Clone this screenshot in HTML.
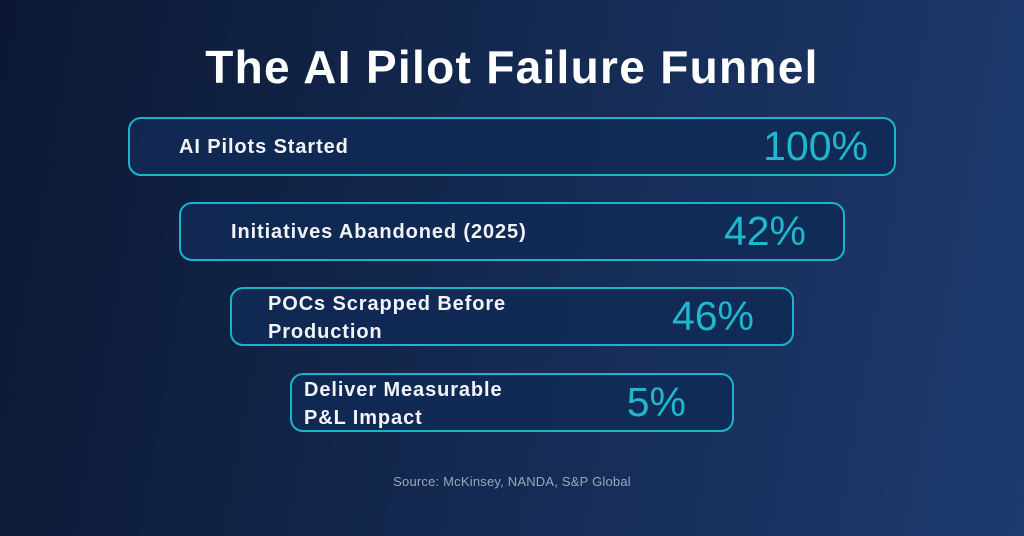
<!DOCTYPE html>
<html><head><meta charset="utf-8"><style>
html,body{margin:0;padding:0}
body{width:1024px;height:536px;overflow:hidden;position:relative;font-family:"Liberation Sans",sans-serif;
background:linear-gradient(100deg,#0c1832 0%,#142a52 50%,#1e3a6e 100%);}
.t{position:absolute;top:40px;left:0;width:1024px;text-align:center;color:#fff;font-weight:bold;font-size:46px;letter-spacing:1.3px}
.b{position:absolute;height:55px;border:2px solid #1ab4cc;border-radius:13px;background:rgba(16,42,86,0.85);box-sizing:content-box}
.l{position:absolute;color:#f2f4f8;font-size:20px;font-weight:bold;line-height:28px;letter-spacing:0.9px;white-space:nowrap}
.p{position:absolute;color:#1fb8cf;font-size:41px;line-height:55px;top:0;text-align:right}
.s{position:absolute;top:474px;left:0;width:1024px;text-align:center;color:#9aa7bd;font-size:13px;letter-spacing:0.2px}
</style></head><body>
<div class="t">The AI Pilot Failure Funnel</div>
<div class="b" style="left:128px;top:117px;width:764px">
 <div class="l" style="left:49px;top:14px">AI Pilots Started</div>
 <div class="p" style="right:26px">100%</div></div>
<div class="b" style="left:179px;top:202px;width:662px">
 <div class="l" style="left:50px;top:14px">Initiatives Abandoned (2025)</div>
 <div class="p" style="right:37px">42%</div></div>
<div class="b" style="left:230px;top:287px;width:560px">
 <div class="l" style="left:36px;top:1px">POCs Scrapped Before<br>Production</div>
 <div class="p" style="right:38px">46%</div></div>
<div class="b" style="left:290px;top:373px;width:440px">
 <div class="l" style="left:12px;top:1px">Deliver Measurable<br>P&amp;L Impact</div>
 <div class="p" style="right:46px">5%</div></div>
<div class="s">Source: McKinsey, NANDA, S&amp;P Global</div>
</body></html>
